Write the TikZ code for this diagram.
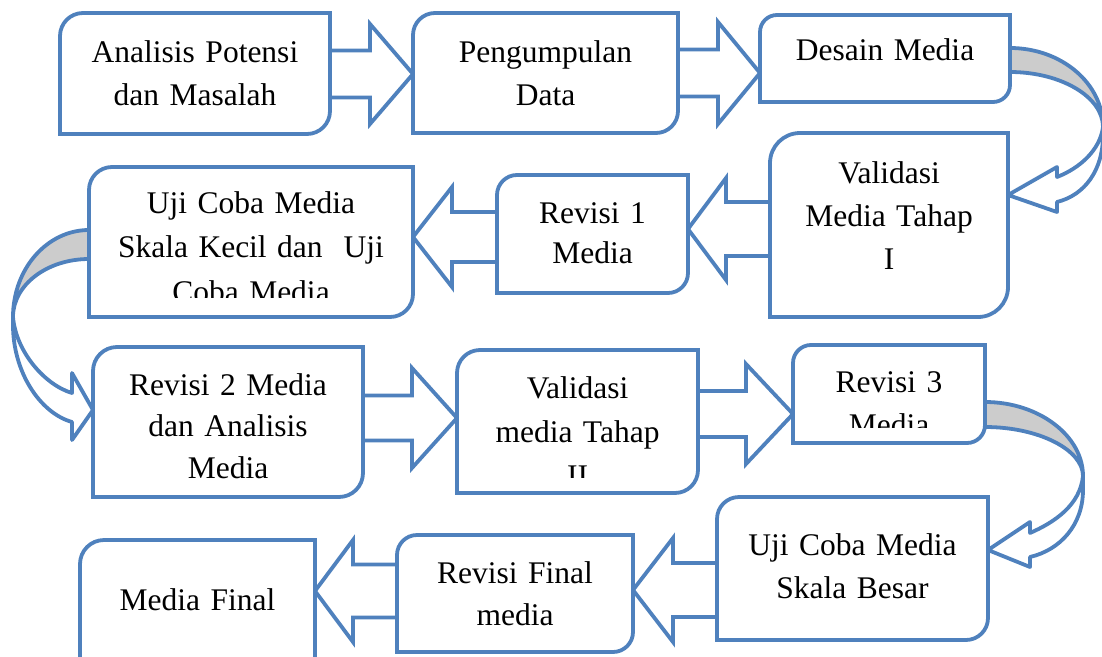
\documentclass[tikz,border=0pt]{standalone}
\usepackage{fontspec}
\setmainfont{Liberation Serif}
\definecolor{wblue}{HTML}{4F81BD}
\definecolor{wgray}{HTML}{CCCCCC}
\tikzset{
  boxn/.style={rectangle, inner sep=0pt, outer sep=0pt},
  boxline/.style={draw=wblue, line width=3.8pt, fill=white, line join=miter},
  arrline/.style={draw=wblue, line width=3.8pt, fill=white, line join=miter},
  backline/.style={draw=wblue, line width=3.8pt, fill=wgray, line join=round},
  txt/.style={font=\fontsize{31.5}{43}\selectfont, align=center, text width=320pt, inner sep=0pt, anchor=base},
}
% box with rounded top-left and bottom-right corners
\newcommand\rdbox[2]{\draw[boxline] ([yshift=-#2pt]#1.north west) arc[start angle=180,end angle=90,radius=#2pt] -- (#1.north east) -- ([yshift=#2pt]#1.south east) arc[start angle=0,end angle=-90,radius=#2pt] -- (#1.south west) -- cycle;}
% block arrow pointing right: from, to, centre y, shaft half, head base x, barb half
\newcommand\barR[6]{\draw[arrline] (#1.east |- 0,{#3-#4}) -- (#5,{#3-#4}) -- (#5,{#3-#6}) -- (#2.west |- 0,#3) -- (#5,{#3+#6}) -- (#5,{#3+#4}) -- (#1.east |- 0,{#3+#4}) -- cycle;}
% block arrow pointing left
\newcommand\barL[6]{\draw[arrline] (#1.west |- 0,{#3-#4}) -- (#5,{#3-#4}) -- (#5,{#3-#6}) -- (#2.east |- 0,#3) -- (#5,{#3+#6}) -- (#5,{#3+#4}) -- (#1.west |- 0,{#3+#4}) -- cycle;}
\begin{document}
\begin{tikzpicture}[x=1pt,y=-1pt]
\path[use as bounding box] (0,0) rectangle (1102,656);
\clip (0,0) rectangle (1102,656);
% box placeholders
\node[boxn, minimum width=270pt, minimum height=121pt] (b1) at (195,73.5) {};
\node[boxn, minimum width=265pt, minimum height=120pt] (b2) at (545.5,73) {};
\node[boxn, minimum width=250pt, minimum height=87pt] (b3) at (885,58.5) {};
\node[boxn, minimum width=238pt, minimum height=184pt] (b4) at (889,225) {};
\node[boxn, minimum width=191pt, minimum height=118pt] (b5) at (592.5,234) {};
\node[boxn, minimum width=324pt, minimum height=150pt] (b6) at (251,242) {};
\node[boxn, minimum width=270pt, minimum height=150pt] (b7) at (228,422) {};
\node[boxn, minimum width=241pt, minimum height=143pt] (b8) at (577.5,421.5) {};
\node[boxn, minimum width=192pt, minimum height=98pt] (b9) at (889,394) {};
\node[boxn, minimum width=271pt, minimum height=143pt] (b10) at (852.5,568.5) {};
\node[boxn, minimum width=236pt, minimum height=117pt] (b11) at (515,593.5) {};
\node[boxn, minimum width=235pt, minimum height=140pt] (b12) at (197.5,610) {};

% curved arrow b3 -> b4
\draw[backline] (b3.east |- 0,48) .. controls (1061,48) and (1103,83) .. (1103,127) .. controls (1103,97) and (1061,72) .. (b3.east |- 0,72) -- cycle;
\draw[arrline, line join=round] (1103,127) -- (1103,135) .. controls (1103,170) and (1085,195) .. (1057,202) -- (1057,212) -- (b4.east |- 0,195) -- (1057,167) -- (1057,177) .. controls (1080,168) and (1100,150) .. (1103,127) -- cycle;
% curved arrow b6 -> b7
\draw[backline] (b6.west |- 0,230) .. controls (47,230) and (13,269) .. (13,317) .. controls (13,285) and (47,259) .. (b6.west |- 0,259) -- cycle;
\draw[arrline, line join=round] (13,317) -- (13,325) .. controls (13,372) and (40,413) .. (72,422) -- (72,440) -- (b7.west |- 0,410) -- (72,373) -- (72,393) .. controls (45,385) and (16,352) .. (13,317) -- cycle;
% curved arrow b9 -> b10
\draw[backline] (b9.east |- 0,402) .. controls (1039,402) and (1083,436) .. (1083,476) .. controls (1083,450) and (1039,427) .. (b9.east |- 0,427) -- cycle;
\draw[arrline, line join=round] (1083,476) -- (1083,490) .. controls (1083,525) and (1060,550) .. (1030,557) -- (1030,567) -- (b10.east |- 0,550) -- (1030,522) -- (1030,533) .. controls (1055,522) and (1080,505) .. (1083,476) -- cycle;

% straight block arrows
\barR{b1}{b2}{74}{23.5}{370}{50}
\barR{b2}{b3}{73}{23.5}{718}{51}
\barL{b4}{b5}{229}{27}{726}{51}
\barL{b5}{b6}{237}{25}{452}{50}
\barR{b7}{b8}{418}{22.5}{412}{50}
\barR{b8}{b9}{414}{23}{746}{50}
\barL{b10}{b11}{590}{27}{673}{52}
\barL{b11}{b12}{591}{26.5}{353}{51}

% boxes
\rdbox{b1}{23}
\rdbox{b2}{22}
\rdbox{b3}{17}
\rdbox{b4}{30}
\rdbox{b5}{20}
\rdbox{b6}{23}
\rdbox{b7}{24}
\rdbox{b8}{23}
\rdbox{b9}{18}
\rdbox{b10}{22}
\rdbox{b11}{20}
\rdbox{b12}{24}

% texts
\node[txt] (t1) at (b1.center |- 0,62) {Analisis Potensi\\dan Masalah};
\node[txt] (t2) at (b2.center |- 0,62) {Pengumpulan\\Data};
\node[txt] (t3) at (b3.center |- 0,60) {Desain Media};
\node[txt] (t4) at (b4.center |- 0,183) {Validasi\\Media Tahap\\I};
\node[txt, font=\fontsize{31.5}{40}\selectfont] (t5) at (b5.center |- 0,223) {Revisi 1\\Media};
\begin{scope}
\clip (80,150) rectangle (420,297);
\node[txt, font=\fontsize{31.5}{44.5}\selectfont] (t6) at (b6.center |- 0,213) {Uji Coba Media\\Skala Kecil dan\ \ Uji\\Coba Media};
\end{scope}
\node[txt, font=\fontsize{31.5}{41.5}\selectfont] (t7) at (b7.center |- 0,395) {Revisi 2 Media\\dan Analisis\\Media};
\begin{scope}
\clip (450,340) rectangle (705,477);
\node[txt, font=\fontsize{31.5}{44}\selectfont] (t8) at (b8.center |- 0,398) {Validasi\\media Tahap\\II};
\end{scope}
\begin{scope}
\clip (785,335) rectangle (990,427);
\node[txt] (t9) at (b9.center |- 0,392) {Revisi 3\\Media};
\end{scope}
\node[txt] (t10) at (b10.center |- 0,555) {Uji Coba Media\\Skala Besar};
\node[txt, font=\fontsize{31.5}{42}\selectfont] (t11) at (b11.center |- 0,583) {Revisi Final\\media};
\node[txt] (t12) at (b12.center |- 0,610) {Media Final};
\end{tikzpicture}
\end{document}
